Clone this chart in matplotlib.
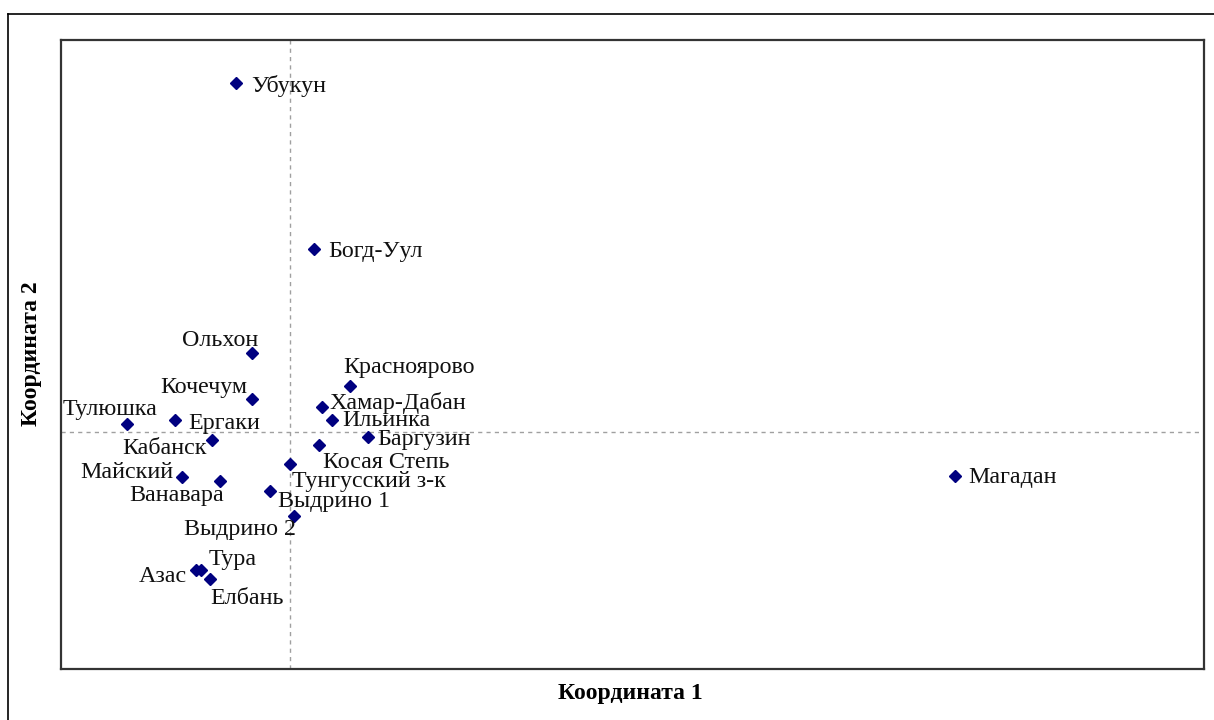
import matplotlib
matplotlib.use("Agg")
import matplotlib.pyplot as plt
from matplotlib.lines import Line2D

plt.rcParams['font.family'] = ['Liberation Serif', 'DejaVu Serif']

# Ordination scores of the sites
sites = ["Убукун", "Богд-Уул", "Ольхон", "Красноярово", "Кочечум", "Хамар-Дабан",
         "Ильинка", "Тулюшка", "Ергаки", "Кабанск", "Баргузин", "Косая Степь",
         "Тунгусский з-к", "Майский", "Ванавара", "Выдрино 1", "Выдрино 2",
         "Азас", "Тура", "Елбань", "Магадан"]
coord1 = [-0.27, 0.12, -0.19, 0.30, -0.19, 0.16,
          0.21, -0.815, -0.575, -0.39, 0.39, 0.145,
          0.0, -0.54, -0.35, -0.10, 0.02,
          -0.47, -0.445, -0.40, 3.325]
coord2 = [1.745, 0.915, 0.395, 0.23, 0.165, 0.125,
          0.06, 0.04, 0.06, -0.04, -0.025, -0.065,
          -0.16, -0.225, -0.245, -0.295, -0.42,
          -0.69, -0.69, -0.735, -0.22]

# label placement: (dx, dy) in pixels, horizontal alignment
label_pos = {
    "Убукун": (15, -1, "left"),
    "Богд-Уул": (14, -1, "left"),
    "Ольхон": (6, 15, "right"),
    "Красноярово": (-7, 20, "left"),
    "Кочечум": (-5, 14, "right"),
    "Хамар-Дабан": (7, 6, "left"),
    "Ильинка": (10, 1, "left"),
    "Тулюшка": (-17, 16, "center"),
    "Ергаки": (13, -1, "left"),
    "Кабанск": (-5, -7, "right"),
    "Баргузин": (9, -1, "left"),
    "Косая Степь": (4, -16, "left"),
    "Тунгусский з-к": (2, -15, "left"),
    "Майский": (-9, 6, "right"),
    "Ванавара": (4, -13, "right"),
    "Выдрино 1": (8, -9, "left"),
    "Выдрино 2": (2, -12, "right"),
    "Азас": (-9, -4, "right"),
    "Тура": (8, 12, "left"),
    "Елбань": (0, -17, "left"),
    "Магадан": (13, 0, "left"),
}

W, H, DPI = 1214, 720, 100
fig = plt.figure(figsize=(W / DPI, H / DPI), dpi=DPI)
ax = fig.add_axes([61 / W, 1 - 669 / H, (1204 - 61) / W, (669 - 40) / H])

ax.set_xlim(-1.145, 4.57)
ax.set_ylim(-1.185, 1.96)
ax.set_xticks([])
ax.set_yticks([])
for sp in ax.spines.values():
    sp.set_color('#333333')
    sp.set_linewidth(1.6)

ax.axvline(0, color='#a0a0a0', lw=1.0, ls=(0, (3, 3)), zorder=1)
ax.axhline(0, color='#a0a0a0', lw=1.0, ls=(0, (3, 3)), zorder=1)

ax.plot(coord1, coord2, ls='none', marker='D', ms=5.8, color='#000080',
        mec='#000080', zorder=3)

for name, x, y in zip(sites, coord1, coord2):
    dx, dy, ha = label_pos[name]
    ax.annotate(name, (x, y), xytext=(dx, dy - 2), textcoords='offset pixels',
                ha=ha, va='center', fontsize=17.3, color='#111111', zorder=4)

fig.text(630 / W, 1 - 694 / H, "Координата 1", ha='center', va='center',
         fontsize=17, fontweight='bold')
fig.text(31 / W, 1 - 354 / H, "Координата 2", ha='center', va='center',
         rotation=90, fontsize=17, fontweight='bold')

# outer frame (left and top edges)
fig.add_artist(Line2D([8 / W, 8 / W], [0, 1 - 14 / H], color='black', lw=1.2,
                      transform=fig.transFigure))
fig.add_artist(Line2D([8 / W, 1], [1 - 14 / H, 1 - 14 / H], color='black', lw=1.2,
                      transform=fig.transFigure))

fig.savefig("out.png", dpi=DPI)
